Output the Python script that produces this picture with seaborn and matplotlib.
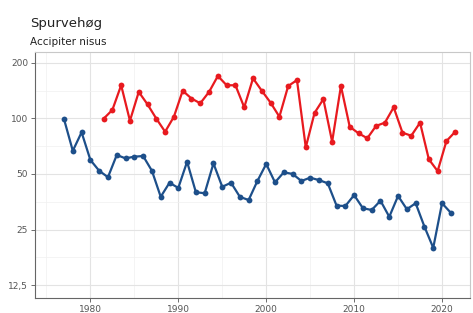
import numpy as np
import pandas as pd
import seaborn as sns
import matplotlib.pyplot as plt
from matplotlib.ticker import FixedLocator, NullFormatter

# data
blue_years = list(range(1977, 2022))
blue_values = [99, 66.7, 84, 59.5, 52, 48, 63.3, 60.7, 62, 62.5,
               52, 37.6, 44.8, 42, 58.2, 39.8, 39.3, 57, 42.6, 44.8,
               37.6, 36.1, 45.8, 56.6, 45, 51, 50, 45.8, 47.7, 46.3,
               44.5, 33.7, 33.5, 38.4, 32.6, 31.9, 35.8, 29.3, 38, 32.2,
               34.7, 25.9, 19.9, 34.7, 30.8]

red_years = [y + 0.5 for y in range(1981, 2022)]
red_values = [99.5, 111, 151, 97, 139, 119, 99.6, 84.6, 102, 141,
              128, 120.6, 139, 169.5, 151, 151, 114.7, 164.6, 141, 121.5,
              102, 149.6, 161, 69.6, 107, 127, 74.7, 149.6, 90, 83,
              78, 91, 94.7, 114.7, 83.6, 80.5, 94.7, 60, 51.8, 75.3,
              84.6]

y_ticks = [12.5, 25, 50, 100, 200]
y_tick_labels = ['12,5', '25', '50', '100', '200']
x_ticks = [1980, 1990, 2000, 2010, 2020]

df = pd.concat([
    pd.DataFrame({'år': blue_years, 'indeks': blue_values, 'serie': 'blå'}),
    pd.DataFrame({'år': red_years, 'indeks': red_values, 'serie': 'rød'}),
])

sns.set_theme(style='white')
plt.rcParams['font.family'] = ['DejaVu Sans']

fig = plt.figure(figsize=(4.73, 3.13), dpi=100)
ax = fig.add_axes([0.074, 0.048, 0.92, 0.786])

ax.set_yscale('log', base=2)

# grid
ax.set_axisbelow(True)
ax.yaxis.set_minor_locator(FixedLocator([12.5 * 2 ** (k + 0.5) for k in range(4)]))
ax.xaxis.set_minor_locator(FixedLocator([1975, 1985, 1995, 2005, 2015]))
ax.grid(True, which='major', color='#e3e3e3', linewidth=0.8)
ax.grid(True, which='minor', color='#f0f0f0', linewidth=0.5)

sns.lineplot(data=df, x='år', y='indeks', hue='serie',
             palette={'blå': '#1d4f8a', 'rød': '#e81a1f'},
             marker='o', markersize=4.2, markeredgewidth=0,
             linewidth=1.6, legend=False, ax=ax)

ax.set_xlim(1973.7, 2023.2)
ax.set_ylim(10.65, 228.7)
ax.set_yticks(y_ticks)
ax.set_yticklabels(y_tick_labels)
ax.yaxis.set_minor_formatter(NullFormatter())
ax.set_xticks(x_ticks)
ax.set_xticklabels([str(x) for x in x_ticks])
ax.set_xlabel('')
ax.set_ylabel('')

ax.tick_params(axis='both', which='major', length=3, width=0.6, color='#555555',
               labelsize=6.5, labelcolor='#555555', pad=2, bottom=True, left=True)
ax.tick_params(axis='both', which='minor', length=0)

for side in ['left', 'bottom']:
    ax.spines[side].set_color('#666666')
    ax.spines[side].set_linewidth(0.8)
for side in ['top', 'right']:
    ax.spines[side].set_color('#c8c8c8')
    ax.spines[side].set_linewidth(0.8)

fig.text(0.063, 0.925, 'Spurvehøg', fontsize=9.5, color='#222222', ha='left', va='center')
fig.text(0.063, 0.865, 'Accipiter nisus', fontsize=7.5, color='#222222', ha='left', va='center')

fig.savefig('out.png', dpi=100)
